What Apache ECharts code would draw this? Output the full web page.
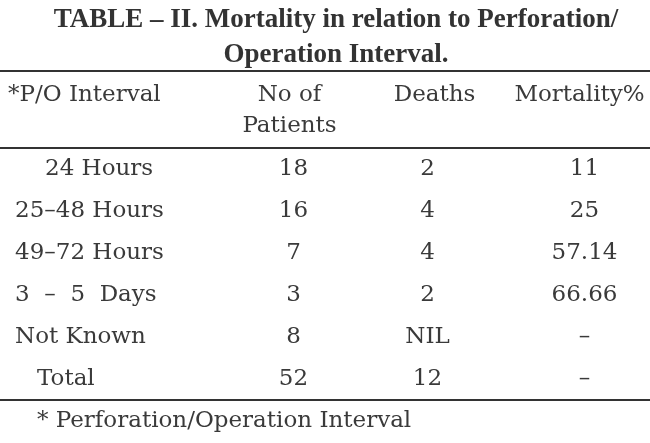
<!DOCTYPE html>
<html lang="en">
<head>
    <meta charset="UTF-8">
    <title>Table II</title>
    <script src="https://cdn.jsdelivr.net/npm/echarts@6.0.0/dist/echarts.min.js"></script>
    <style>
        body {margin: 0; background: #fff;}
    </style>
</head>
<body>
<div id="chartContainer" style="width:650px;height:443px;"></div>
</body>
<script type="text/javascript">
    // 表格数据
    var intervals = ['24 Hours', '25–48 Hours', '49–72 Hours', '3  –  5  Days', 'Not Known', 'Total'];
    var columns = ['No of\nPatients', 'Deaths', 'Mortality%'];
    var patients = [18, 16, 7, 3, 8, 52];
    var deaths = [2, 4, 4, 2, 'NIL', 12];
    var mortality = [11, 25, 57.14, 66.66, '–', '–'];

    var bodyFont = 'DejaVu Serif';
    var inkColor = '#3a3a3a';
    // 行标签缩进、列微调（与原表排版一致）
    var indent = {'24 Hours': 30, 'Total': 22};
    var colShift = [4, -7, 5];

    drawChart();

    function drawChart() {
        var chartDom = document.getElementById('chartContainer');
        var myChart = echarts.init(chartDom);

        var colValues = [patients, deaths, mortality];
        var series = [];
        colValues.forEach(function (values, c) {
            series.push({
                type: 'scatter',
                symbolSize: 2,
                itemStyle: {color: 'rgba(0,0,0,0)', opacity: 1},
                label: {
                    show: true,
                    position: 'inside',
                    offset: [colShift[c], 0],
                    color: inkColor,
                    fontFamily: bodyFont,
                    fontSize: 23,
                    formatter: function (p) {
                        return p.value[2];
                    }
                },
                silent: true,
                data: values.map(function (v, i) {
                    return [c, i, v];
                })
            });
        });

        var option = {
            backgroundColor: '#ffffff',
            animation: false,
            title: {
                text: 'TABLE – II. Mortality in relation to Perforation/\nOperation Interval.',
                left: 331,
                top: -2,
                textAlign: 'center',
                textStyle: {
                    fontFamily: 'Liberation Serif',
                    fontWeight: 'bold',
                    fontSize: 27,
                    lineHeight: 35,
                    color: '#333'
                }
            },
            grid: {left: 217, width: 435, top: 148, bottom: 43, outerBoundsMode: 'none'},
            xAxis: {
                type: 'category',
                position: 'top',
                data: columns,
                axisLine: {show: false},
                axisTick: {show: false},
                axisLabel: {
                    interval: 0,
                    color: inkColor,
                    fontFamily: bodyFont,
                    fontSize: 23,
                    lineHeight: 31,
                    verticalAlign: 'top',
                    margin: 68
                }
            },
            yAxis: {
                type: 'category',
                inverse: true,
                data: intervals.map(function (name) {
                    var item = {value: name};
                    if (indent[name]) item.textStyle = {align: 'left', padding: [0, 0, 0, indent[name]]};
                    return item;
                }),
                axisLine: {show: false},
                axisTick: {show: false},
                axisLabel: {
                    interval: 0,
                    color: inkColor,
                    fontFamily: bodyFont,
                    fontSize: 23,
                    align: 'left',
                    margin: 202
                }
            },
            graphic: [
                // 表格横线
                {type: 'line', shape: {x1: 0, y1: 71, x2: 650, y2: 71}, style: {stroke: '#333', lineWidth: 2}},
                {type: 'line', shape: {x1: 0, y1: 148, x2: 650, y2: 148}, style: {stroke: '#333', lineWidth: 1.8}},
                {type: 'line', shape: {x1: 0, y1: 400, x2: 650, y2: 400}, style: {stroke: '#333', lineWidth: 1.8}},
                {
                    type: 'text', left: 8, top: 84,
                    style: {text: '*P/O Interval', fill: inkColor, font: '23px "DejaVu Serif"'}
                },
                {
                    type: 'text', left: 37, top: 410,
                    style: {text: '* Perforation/Operation Interval', fill: inkColor, font: '23px "DejaVu Serif"'}
                }
            ],
            series: series
        };
        option && myChart.setOption(option);
    }
</script>
</html>
